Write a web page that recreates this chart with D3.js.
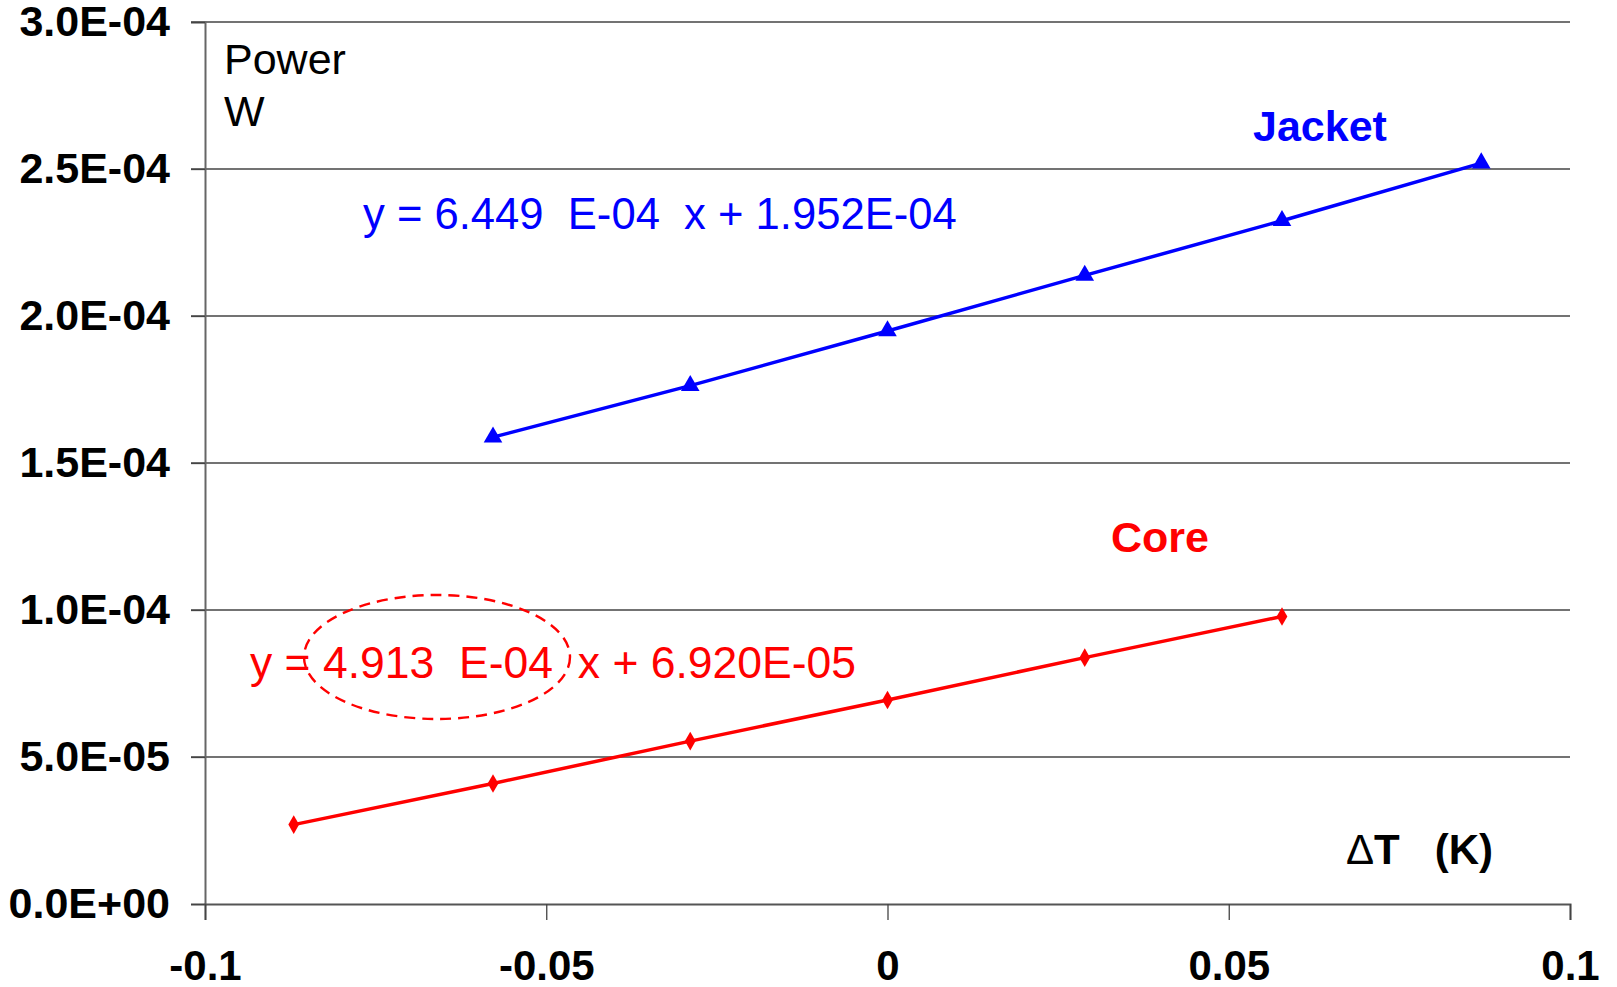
<!DOCTYPE html>
<html lang="en">
<head>
    <meta charset="UTF-8">
    <title>Power vs dT</title>
    <script src="https://d3js.org/d3.v7.min.js"></script>
    <style>
        body { margin: 0; background: #fff; }
        text { font-family: "Liberation Sans", Arial, sans-serif; }
    </style>
</head>
<body>
<script>
    // measured points
    const dT = [-0.0578, -0.0289, 0, 0.0289, 0.0578, 0.0870];
    const jacketPower = [1.588e-4, 1.763e-4, 1.949e-4, 2.138e-4, 2.324e-4, 2.520e-4];
    const dTCore = [-0.0870, -0.0578, -0.0289, 0, 0.0289, 0.0578];
    const corePower = [0.270e-4, 0.410e-4, 0.554e-4, 0.694e-4, 0.838e-4, 0.978e-4];

    const xTicks = [-0.1, -0.05, 0, 0.05, 0.1];
    const yTicks = [0, 0.5e-4, 1.0e-4, 1.5e-4, 2.0e-4, 2.5e-4, 3.0e-4];

    const jacketEq = "y = 6.449  E-04  x + 1.952E-04";
    const coreEq = "y = 4.913  E-04  x + 6.920E-05";

    const width = 1617;
    const height = 987;
    const margin = { top: 22, right: 47, bottom: 83, left: 205 };

    const svg = d3.select("body").append("svg")
        .attr("width", width)
        .attr("height", height);

    const x = d3.scaleLinear()
        .domain([-0.1, 0.1])
        .range([margin.left, width - margin.right]);

    const y = d3.scaleLinear()
        .domain([0, 3e-4])
        .range([height - margin.bottom, margin.top]);

    function sci(v) {
        const [m, e] = v.toExponential(1).split("e");
        const n = +e;
        return m + "E" + (n < 0 ? "-" : "+") + String(Math.abs(n)).padStart(2, "0");
    }

    // horizontal gridlines
    svg.append("g")
        .selectAll("line")
        .data(yTicks.filter(d => d > 0))
        .join("line")
        .attr("x1", margin.left - 14)
        .attr("x2", width - margin.right)
        .attr("y1", d => y(d))
        .attr("y2", d => y(d))
        .attr("stroke", "#444")
        .attr("stroke-width", 1.3);

    // y axis
    const yAxis = svg.append("g")
        .attr("transform", `translate(${margin.left},0)`)
        .call(d3.axisLeft(y).tickValues(yTicks).tickFormat(sci).tickSize(14).tickPadding(21));
    yAxis.select(".domain").attr("stroke", "#666").attr("stroke-width", 2);
    yAxis.selectAll(".tick line").attr("stroke", "#444").attr("stroke-width", 1.3);
    yAxis.selectAll("text")
        .attr("font-family", "Liberation Sans, Arial, sans-serif")
        .attr("font-size", 43)
        .attr("font-weight", "bold")
        .attr("fill", "#000");

    // x axis
    const xAxis = svg.append("g")
        .attr("transform", `translate(0,${y(0)})`)
        .call(d3.axisBottom(x).tickValues(xTicks).tickFormat(d => String(d)).tickSize(16).tickPadding(30));
    xAxis.select(".domain").attr("stroke", "#555").attr("stroke-width", 2);
    xAxis.selectAll(".tick line").attr("stroke", "#444").attr("stroke-width", 1.3);
    xAxis.selectAll("text")
        .attr("font-family", "Liberation Sans, Arial, sans-serif")
        .attr("font-size", 42)
        .attr("font-weight", "bold")
        .attr("fill", "#000");

    const line = d3.line()
        .x(d => x(d[0]))
        .y(d => y(d[1]));

    const jacket = dT.map((d, i) => [d, jacketPower[i]]);
    const core = dTCore.map((d, i) => [d, corePower[i]]);

    svg.append("path")
        .datum(jacket)
        .attr("fill", "none")
        .attr("stroke", "#0000ff")
        .attr("stroke-width", 3.5)
        .attr("d", line);

    svg.append("path")
        .datum(core)
        .attr("fill", "none")
        .attr("stroke", "#ff0000")
        .attr("stroke-width", 3.5)
        .attr("d", line);

    svg.append("g")
        .selectAll("path")
        .data(jacket)
        .join("path")
        .attr("transform", d => `translate(${x(d[0])},${y(d[1])})`)
        .attr("d", d3.symbol(d3.symbolTriangle, 150))
        .attr("fill", "#0000ff");

    svg.append("g")
        .selectAll("path")
        .data(core)
        .join("path")
        .attr("transform", d => `translate(${x(d[0])},${y(d[1])})`)
        .attr("d", d3.symbol(d3.symbolDiamond, 100))
        .attr("fill", "#ff0000");

    // axis titles
    svg.append("text")
        .attr("x", 224).attr("y", 74)
        .attr("font-size", 43)
        .text("Power");
    svg.append("text")
        .attr("x", 224).attr("y", 126)
        .attr("font-size", 43)
        .text("W");

    const xt = svg.append("text")
        .attr("x", 1346).attr("y", 864)
        .attr("font-size", 42)
        .attr("font-weight", "bold")
        .style("white-space", "pre");
    xt.append("tspan").attr("font-weight", "normal").text("\u0394");
    xt.append("tspan").text("T   (K)");

    // series labels
    svg.append("text")
        .attr("x", 1253).attr("y", 141)
        .attr("font-size", 43)
        .attr("font-weight", "bold")
        .attr("fill", "#0000ff")
        .text("Jacket");
    svg.append("text")
        .attr("x", 1111).attr("y", 552)
        .attr("font-size", 43)
        .attr("font-weight", "bold")
        .attr("fill", "#ff0000")
        .text("Core");

    // trend line equations
    svg.append("text")
        .attr("x", 363).attr("y", 229)
        .attr("font-size", 43.6)
        .attr("fill", "#0000ff")
        .style("white-space", "pre")
        .text(jacketEq);
    svg.append("text")
        .attr("x", 250).attr("y", 678)
        .attr("font-size", 44.5)
        .attr("fill", "#ff0000")
        .style("white-space", "pre")
        .text(coreEq);

    // dashed ellipse around the slope
    svg.append("ellipse")
        .attr("cx", 437).attr("cy", 657)
        .attr("rx", 133).attr("ry", 62)
        .attr("fill", "none")
        .attr("stroke", "#ff0000")
        .attr("stroke-width", 2.4)
        .attr("stroke-dasharray", "11 7");
</script>
</body>
</html>
